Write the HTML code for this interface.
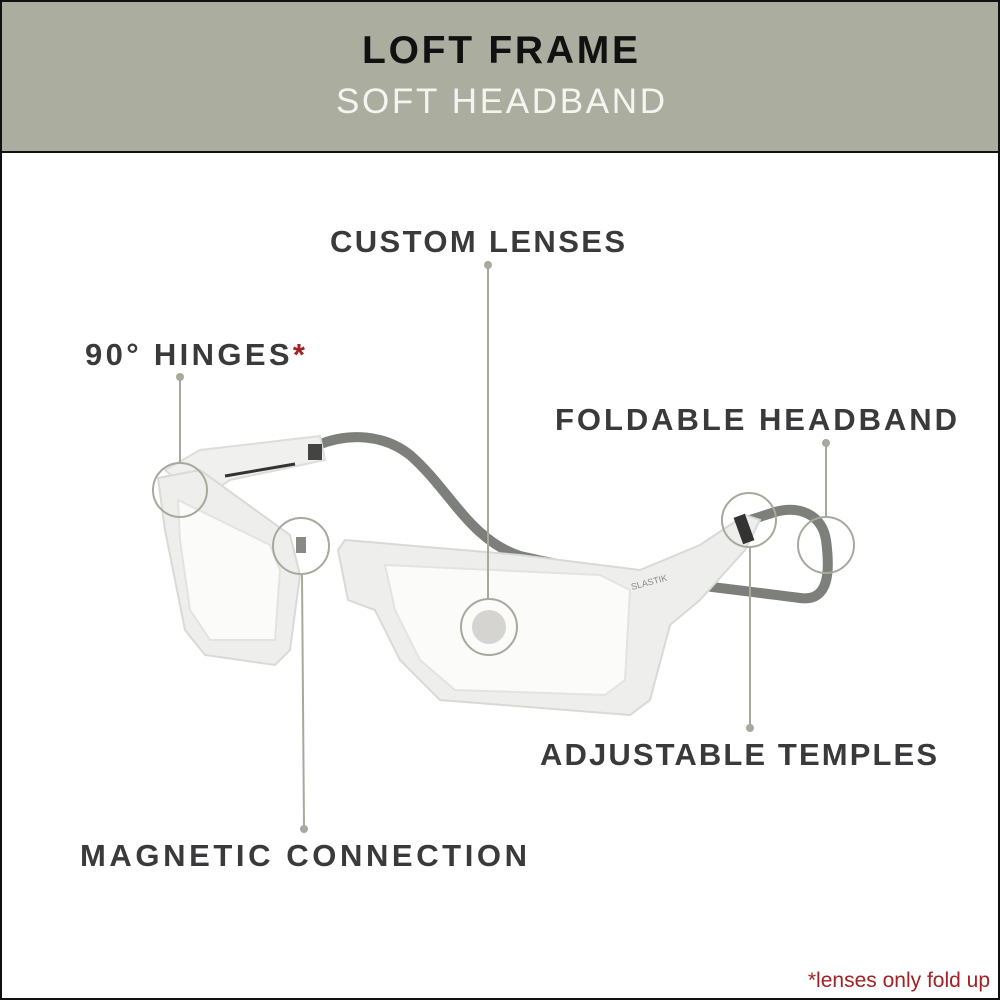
<!DOCTYPE html>
<html><head><style>
html,body{margin:0;padding:0;background:#fff}
svg{display:block}
</style></head><body>
<svg width="1000" height="1000" viewBox="0 0 1000 1000" xmlns="http://www.w3.org/2000/svg">
<rect x="0" y="0" width="1000" height="1000" fill="#fff"/>
<rect x="0" y="0" width="1000" height="152" fill="#abad9f"/>
<line x1="0" y1="152" x2="1000" y2="152" stroke="#111" stroke-width="2"/>
<rect x="1" y="1" width="998" height="998" fill="none" stroke="#111" stroke-width="2"/>
<g font-family="Liberation Sans, sans-serif">
<text x="362" y="63" font-size="39" font-weight="bold" fill="#111" textLength="276" lengthAdjust="spacing">LOFT FRAME</text>
<text x="336" y="113" font-size="35" fill="#f4f4f0" textLength="329" lengthAdjust="spacing">SOFT HEADBAND</text>
</g>

<path d="M318 445 C350 432 385 435 410 455 C450 490 470 540 520 556 C600 575 700 585 800 598 C830 602 830 570 826 540 C822 515 800 505 775 512 L750 520" fill="none" stroke="#7d807a" stroke-width="10" stroke-linecap="round" stroke-linejoin="round"/>
<path d="M165 470 L200 450 L320 436 L325 460 L230 480 L200 500 Z" fill="#f0f1ef" stroke="#dcdedb" stroke-width="2"/>
<line x1="225" y1="476" x2="295" y2="464" stroke="#333" stroke-width="3"/>
<rect x="308" y="444" width="14" height="16" fill="#444"/>
<path d="M158 478 L200 470 L290 535 L300 575 L290 650 L275 665 L205 655 L185 630 L165 530 Z" fill="#eeefed" stroke="#d8dad6" stroke-width="2"/>
<path d="M178 500 L270 545 L280 570 L275 640 L210 640 L190 610 L180 540 Z" fill="#fbfbfa" stroke="#e2e4e0" stroke-width="2"/>
<rect x="296" y="537" width="10" height="16" fill="#8a8a84"/>
<path d="M338 550 L345 540 L520 555 L640 570 L700 545 L745 515 L760 520 L745 550 L700 600 L670 625 L650 700 L630 715 L440 700 L400 660 L375 610 L348 600 Z" fill="#eeefed" stroke="#d8dad6" stroke-width="2"/>
<path d="M385 565 L600 575 L630 590 L625 680 L605 695 L455 690 L420 660 L395 610 Z" fill="#fbfbfa" stroke="#e2e4e0" stroke-width="2"/>
<rect x="738" y="515" width="12" height="28" fill="#333" transform="rotate(-20 744 529)"/>
<text x="632" y="590" font-family="Liberation Sans, sans-serif" font-size="9" fill="#888" transform="rotate(-15 632 590)">SLASTIK</text>

<g fill="none" stroke="#a9a89c" stroke-width="2">
<circle cx="180" cy="490" r="27"/>
<circle cx="301" cy="546" r="28"/>
<circle cx="489" cy="627" r="28"/>
<circle cx="749" cy="520" r="27"/>
<circle cx="826" cy="545" r="28"/>
<line x1="488" y1="265" x2="488" y2="599"/>
<line x1="180" y1="377" x2="180" y2="463"/>
<line x1="826" y1="443" x2="826" y2="517"/>
<line x1="750" y1="547" x2="750" y2="728"/>
<line x1="302" y1="574" x2="304" y2="829"/>
</g>
<circle cx="489" cy="627" r="17" fill="#d5d4d0"/>
<g fill="#a9a89c">
<circle cx="488" cy="265" r="4"/>
<circle cx="180" cy="377" r="4"/>
<circle cx="826" cy="443" r="4"/>
<circle cx="750" cy="728" r="4"/>
<circle cx="304" cy="829" r="4"/>
</g>

<g font-family="Liberation Sans, sans-serif" font-weight="bold" font-size="31" fill="#3a3a3c">
<text x="330" y="252" textLength="295" lengthAdjust="spacing">CUSTOM LENSES</text>
<text x="85" y="365" textLength="220" lengthAdjust="spacing">90° HINGES<tspan fill="#a32024">*</tspan></text>
<text x="555" y="430" textLength="402" lengthAdjust="spacing">FOLDABLE HEADBAND</text>
<text x="540" y="765" textLength="397" lengthAdjust="spacing">ADJUSTABLE TEMPLES</text>
<text x="80" y="866" textLength="447" lengthAdjust="spacing">MAGNETIC CONNECTION</text>
</g>
<text x="990" y="987" text-anchor="end" font-family="Liberation Sans, sans-serif" font-size="21" fill="#a32024">*lenses only fold up</text>
</svg>
</body></html>
